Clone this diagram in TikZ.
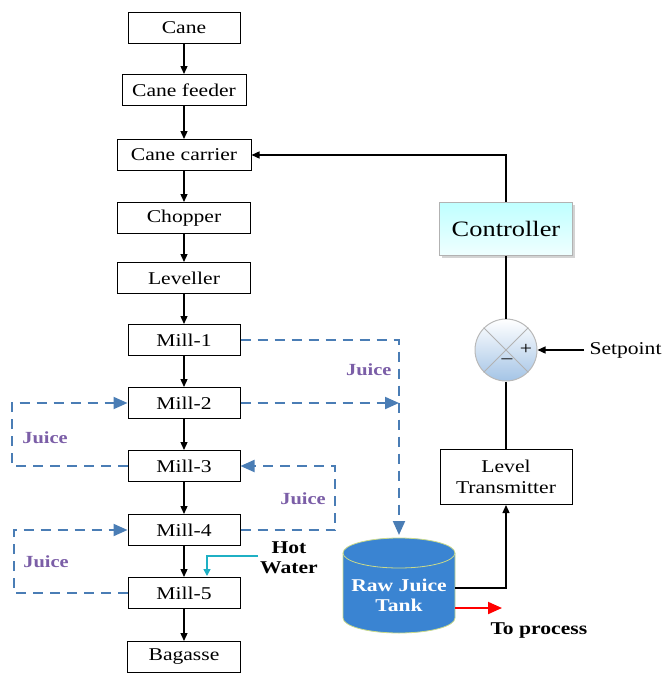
\documentclass[tikz,border=0pt]{standalone}
\usepackage{fontspec}
\setmainfont{Liberation Serif}[FakeStretch=1.2]
\usetikzlibrary{arrows.meta,shadows,calc}
\definecolor{juiceblue}{HTML}{4A7DB5}
\definecolor{juicepurple}{HTML}{7B5EA7}
\definecolor{tankblue}{HTML}{3A84D2}
\definecolor{tankrim}{HTML}{C9D98A}
\definecolor{hotcyan}{HTML}{1FB0C4}
\definecolor{sumblue}{HTML}{A4C4E6}
\begin{document}
\begin{tikzpicture}[x=1pt,y=-1pt,
  box/.style={draw, line width=1pt, minimum height=31pt, inner sep=0pt, font=\fontsize{18}{20}\selectfont},
  arr/.style={draw, line width=1.3pt, -{Triangle[length=8pt,width=7pt]}},
  juice/.style={draw=juiceblue, line width=2pt, dash pattern=on 10pt off 7pt, -{Triangle[length=14pt,width=12pt]}},
  juicelbl/.style={text=juicepurple, font=\fontsize{17}{19}\selectfont\bfseries},
  lbl/.style={font=\fontsize{18}{20}\selectfont},
  blbl/.style={font=\fontsize{18}{20}\selectfont\bfseries}]
\useasboundingbox (0,0) rectangle (665,675);
% main chain
\node[box, minimum width=112pt] (cane) at (184,28) {Cane};
\node[box, minimum width=124pt] (feeder) at (184,90) {Cane feeder};
\node[box, minimum width=134pt] (carrier) at (184,155) {Cane carrier};
\node[box, minimum width=133pt] (chopper) at (184,218) {Chopper};
\node[box, minimum width=133pt] (leveller) at (184,278) {Leveller};
\node[box, minimum width=112pt] (m1) at (184,340) {Mill-1};
\node[box, minimum width=112pt] (m2) at (184,403) {Mill-2};
\node[box, minimum width=112pt] (m3) at (184,466) {Mill-3};
\node[box, minimum width=112pt] (m4) at (184,530) {Mill-4};
\node[box, minimum width=112pt] (m5) at (184,593) {Mill-5};
\node[box, minimum width=113pt] (bag) at (184,657) {Bagasse};
\foreach \a/\b in {cane/feeder,feeder/carrier,carrier/chopper,chopper/leveller,leveller/m1,m1/m2,m2/m3,m3/m4,m4/m5,m5/bag}
  \draw[arr] (\a) -- (\b);
% tank
\fill[tankblue] (343,553) -- (343,618) arc[start angle=180, end angle=360, x radius=56pt, y radius=15pt] -- (455,553) -- cycle;
\draw[tankrim, line width=0.8pt] (343,553) -- (343,618) arc[start angle=180, end angle=360, x radius=56pt, y radius=15pt] -- (455,553);
\filldraw[fill=tankblue, draw=tankrim, line width=0.8pt] (399,553) ellipse[x radius=56pt, y radius=15pt];
\node[blbl, text=white, align=center, inner sep=0pt] (tank) at (399,595) {Raw Juice\\Tank};
\coordinate (tankN) at (399,535);
\coordinate (tankE) at (455,588);
\coordinate (tankE2) at (455,608);
\coordinate (j2) at (399,403);
% juice lines
\draw[juice] (m1.east) -- (399,340) -- (tankN);
\draw[juice] (m2.east) -- (j2);
\draw[juice] (m3.west) -- ++(-116,0) |- (m2.west);
\draw[juice] (m4.east) -- (335,530) |- (m3.east);
\draw[juice] (m5.west) -- ++(-114,0) |- (m4.west);
\node[juicelbl, anchor=east] (jl1) at (395,370) {Juice};
\node[juicelbl] (jl2) at (45,438) {Juice};
\node[juicelbl] (jl3) at (303,499) {Juice};
\node[juicelbl] (jl4) at (46,562) {Juice};
% hot water
\node[blbl, align=center, inner sep=0pt] (hot) at (289,558) {Hot\\Water};
\coordinate (hw) at (258,556);
\draw[hotcyan, line width=1.5pt, -{Triangle[length=7pt,width=7pt]}] (hw) -- (207,556) -- (207,576);
% control loop
\node[draw=gray!60, line width=0.8pt, minimum width=133pt, minimum height=53pt, top color=cyan!25, bottom color=cyan!6, drop shadow={shadow xshift=2pt, shadow yshift=-2pt, opacity=0.35}, font=\fontsize{22}{24}\selectfont] (ctrl) at (506,229) {Controller};
\node[box, minimum width=132pt, minimum height=55pt, align=center, font=\fontsize{18}{21}\selectfont] (lt) at (506,477) {Level\\Transmitter};
\node[circle, draw=gray!55, line width=1pt, minimum size=62pt, top color=white, bottom color=sumblue] (sum) at (506,350) {};
\draw[gray!60, line width=1pt] (sum.45) -- (sum.225) (sum.135) -- (sum.315);
\node[lbl, inner sep=0pt] (plus) at (526,349) {+};
\node[lbl, inner sep=0pt] (minus) at (507,361) {\textendash};
\coordinate (sp) at (584,350);
\node[lbl, anchor=west] (setp) at (586,350) {Setpoint};
\draw[arr] (sp) -- (sum.east);
\draw[line width=1.3pt] (ctrl.south) -- (sum.north);
\draw[line width=1.3pt] (sum.south) -- (lt.north);
\draw[arr] (ctrl.north) |- (carrier.east);
\draw[arr] (tankE) -| (lt.south);
\draw[red, line width=2pt, -{Triangle[length=14pt,width=12pt]}] (tankE2) -- (502,608);
\node[blbl, anchor=west] (toproc) at (487,631) {To process};
\end{tikzpicture}
\end{document}
